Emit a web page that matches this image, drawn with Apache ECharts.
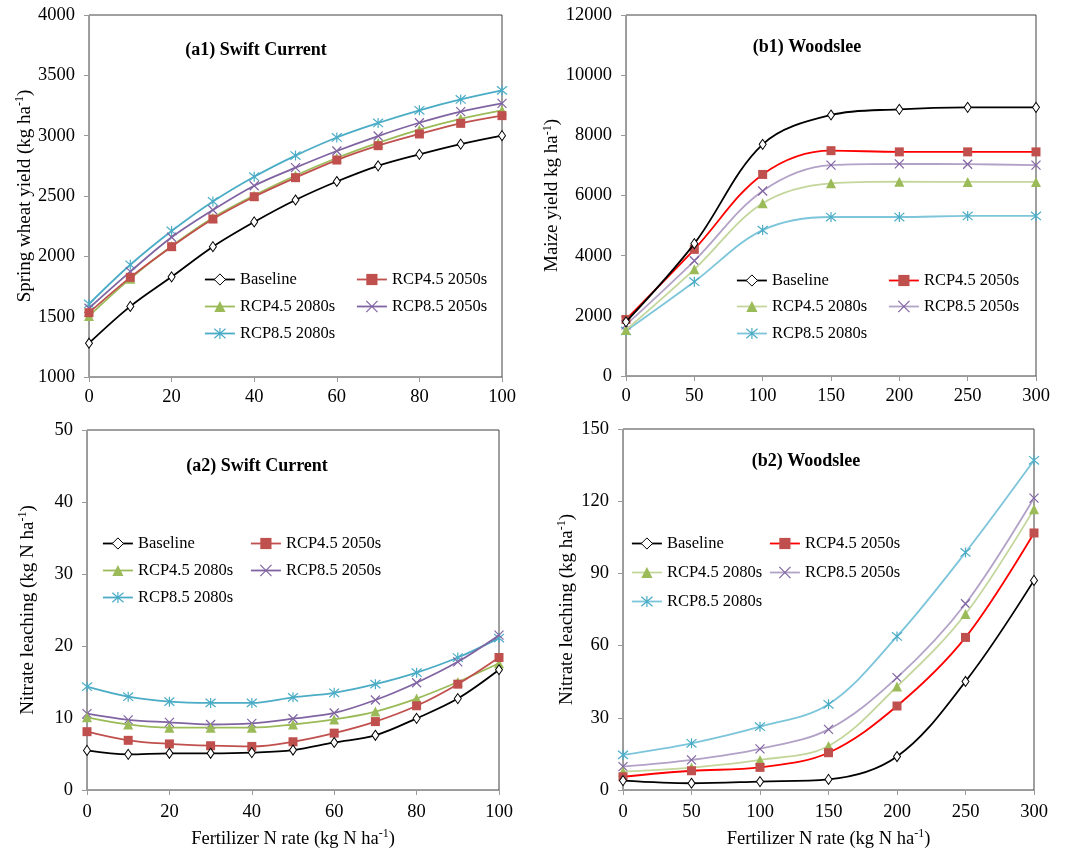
<!DOCTYPE html>
<html>
<head>
<meta charset="utf-8">
<script src="https://cdn.jsdelivr.net/npm/echarts@6/dist/echarts.min.js"></script>
<style>
html,body{margin:0;padding:0;background:#fff;}
#chart{width:1086px;height:856px;}
</style>
</head>
<body>
<div id="chart"></div>
<script>
// ---------- DATA ----------
const aX = [0, 10, 20, 30, 40, 50, 60, 70, 80, 90, 100];
const bX = [0, 50, 100, 150, 200, 250, 300];
const seriesNames = ['Baseline', 'RCP4.5 2050s', 'RCP4.5 2080s', 'RCP8.5 2050s', 'RCP8.5 2080s'];

// (a1) Swift Current - spring wheat yield (kg ha-1)
const a1_base   = [1280, 1585, 1830, 2080, 2285, 2467, 2620, 2750, 2845, 2930, 3000];
const a1_r45_50 = [1533, 1826, 2080, 2309, 2494, 2652, 2798, 2917, 3014, 3102, 3166];
const a1_r45_80 = [1505, 1815, 2085, 2320, 2505, 2670, 2815, 2940, 3050, 3140, 3210];
const a1_r85_50 = [1570, 1873, 2158, 2384, 2585, 2735, 2873, 2997, 3107, 3199, 3268];
const a1_r85_80 = [1605, 1930, 2210, 2455, 2660, 2835, 2985, 3105, 3210, 3300, 3375];

// (b1) Woodslee - maize yield (kg ha-1)
const b1_base   = [1800, 4400, 7700, 8675, 8865, 8930, 8930];
const b1_r45_50 = [1880, 4210, 6700, 7490, 7450, 7450, 7450];
const b1_r45_80 = [1530, 3545, 5740, 6405, 6460, 6450, 6450];
const b1_r85_50 = [1700, 3830, 6150, 7010, 7050, 7040, 7010];
const b1_r85_80 = [1500, 3135, 4850, 5285, 5285, 5320, 5320];

// (a2) Swift Current - nitrate leaching (kg N ha-1)
const a2_base   = [5.5, 4.95, 5.1, 5.1, 5.2, 5.55, 6.6, 7.6, 9.95, 12.7, 16.7];
const a2_r45_50 = [8.1, 6.9, 6.4, 6.15, 6.05, 6.7, 7.9, 9.5, 11.7, 14.7, 18.4];
const a2_r45_80 = [10.1, 9.1, 8.65, 8.65, 8.65, 9.1, 9.8, 10.9, 12.7, 15.0, 17.6];
const a2_r85_50 = [10.6, 9.75, 9.4, 9.1, 9.25, 9.9, 10.7, 12.5, 14.9, 17.8, 21.5];
const a2_r85_80 = [14.35, 12.96, 12.27, 12.1, 12.1, 12.87, 13.5, 14.7, 16.3, 18.4, 21.1];

// (b2) Woodslee - nitrate leaching (kg ha-1)
const b2_base   = [3.9, 2.8, 3.5, 4.4, 13.9, 45.1, 87.1];
const b2_r45_50 = [5.5, 8.0, 9.4, 15.5, 34.9, 63.4, 106.8];
const b2_r45_80 = [7.6, 9.3, 12.5, 18.3, 43.0, 73.1, 116.7];
const b2_r85_50 = [9.7, 12.5, 17.1, 25.2, 46.7, 77.4, 121.3];
const b2_r85_80 = [14.6, 19.4, 26.3, 35.6, 63.8, 98.7, 137.0];

const a1Ticks = {min: 1000, max: 4000, interval: 500};
const b1Ticks = {min: 0, max: 12000, interval: 2000};
const a2Ticks = {min: 0, max: 50, interval: 10};
const b2Ticks = {min: 0, max: 150, interval: 30};
const aXTicks = {min: 0, max: 100, interval: 20};
const bXTicks = {min: 0, max: 300, interval: 50};

// ---------- STYLE ----------
const FONT = '"Liberation Serif", "Times New Roman", serif';
const markerColors = ['#000000', '#C0504D', '#9BBB59', '#8064A2', '#4BACC6'];
const aLineColors = ['#000000', '#C0504D', '#9BBB59', '#8064A2', '#4BACC6'];
const bLineColors = ['#000000', '#FF0000', '#C3D69B', '#B3A2C7', '#7CC5DA'];
const symbols = [
  {symbol: 'diamond', size: [7, 10], fill: '#ffffff', bw: 1},
  {symbol: 'rect', size: 9, fill: null, bw: 0},
  {symbol: 'triangle', size: 10, fill: null, bw: 0},
  {symbol: 'path://M0,0L10,10M10,0L0,10', size: 9, fill: 'none', bw: 1.2},
  {symbol: 'path://M5,-1L5,11M0,0L10,10M10,0L0,10', size: 10, fill: 'none', bw: 1.2}
];

const grids = [
  {left: 89, top: 15, width: 413, height: 362},
  {left: 626, top: 15, width: 410, height: 361},
  {left: 87, top: 430, width: 412, height: 360},
  {left: 623, top: 429, width: 411, height: 361}
];

const rich = {
  n: {fontFamily: FONT, fontSize: 19, color: '#000', lineHeight: 22},
  s: {fontFamily: FONT, fontSize: 12, color: '#000', lineHeight: 12, verticalAlign: 'top'}
};
const richX = {
  n: {fontFamily: FONT, fontSize: 18.5, color: '#000', lineHeight: 22},
  s: {fontFamily: FONT, fontSize: 12, color: '#000', lineHeight: 12, verticalAlign: 'top'}
};

function plainNum(v) { return String(v); }

function xAxis(gi, t, showName, labelMargin) {
  return {
    type: 'value', gridIndex: gi, min: t.min, max: t.max, interval: t.interval,
    axisLine: {show: true, lineStyle: {color: '#9a9a9a', width: 1}},
    axisTick: {show: true, inside: false, length: 5, lineStyle: {color: '#9a9a9a'}},
    splitLine: {show: false},
    axisLabel: {fontFamily: FONT, fontSize: 18.5, color: '#000', margin: labelMargin, formatter: plainNum},
    name: showName ? '{n|Fertilizer N rate (kg N ha}{s|-1}{n|)}' : '',
    nameLocation: 'middle', nameGap: 38,
    nameTextStyle: {rich: richX}
  };
}
function yAxis(gi, t, label, gap) {
  return {
    type: 'value', gridIndex: gi, min: t.min, max: t.max, interval: t.interval,
    axisLine: {show: true, lineStyle: {color: '#9a9a9a', width: 1}},
    axisTick: {show: true, inside: false, length: 5, lineStyle: {color: '#9a9a9a'}},
    splitLine: {show: false},
    axisLabel: {fontFamily: FONT, fontSize: 18.5, color: '#000', margin: 14, formatter: plainNum},
    name: label, nameLocation: 'middle', nameGap: gap,
    nameTextStyle: {rich: rich}
  };
}

function makeSeries(gi, xs, arrs, lineColors) {
  return arrs.map((arr, k) => {
    const s = symbols[k];
    return {
      type: 'line', name: seriesNames[k], xAxisIndex: gi, yAxisIndex: gi,
      data: xs.map((x, i) => [x, arr[i]]),
      smooth: 0.35,
      symbol: s.symbol, symbolSize: s.size, showSymbol: true,
      lineStyle: {color: lineColors[k], width: 1.8},
      itemStyle: {
        color: s.fill === null ? markerColors[k] : (s.fill === 'none' ? markerColors[k] : s.fill),
        borderColor: markerColors[k], borderWidth: s.bw
      },
      emphasis: {disabled: true},
      z: 10 - k
    };
  });
}

function makeLegends(positions, lineColors) {
  return positions.map((p, k) => {
    const s = symbols[k];
    return {
      left: p[0], top: p[1], padding: 0, itemWidth: 30, itemHeight: 14,
      selectedMode: false,
      textStyle: {fontFamily: FONT, fontSize: 16.5, color: '#000'},
      data: [{
        name: seriesNames[k],
        lineStyle: {color: lineColors[k], width: 1.8},
        itemStyle: {
          color: s.fill === null ? markerColors[k] : (s.fill === 'none' ? markerColors[k] : s.fill),
          borderColor: markerColors[k], borderWidth: s.bw
        }
      }]
    };
  });
}

function legendPos(c1, c2, rows) {
  return [[c1, rows[0]], [c2, rows[0]], [c1, rows[1]], [c2, rows[1]], [c1, rows[2]]];
}

const titleStyle = {fontFamily: FONT, fontSize: 18, fontWeight: 'bold', color: '#000'};

const option = {
  animation: false,
  backgroundColor: '#fff',
  title: [
    {text: '(a1) Swift Current', left: 256, top: 41, textAlign: 'center', textStyle: titleStyle, padding: 0},
    {text: '(b1) Woodslee', left: 807, top: 38, textAlign: 'center', textStyle: titleStyle, padding: 0},
    {text: '(a2) Swift Current', left: 257, top: 457, textAlign: 'center', textStyle: titleStyle, padding: 0},
    {text: '(b2) Woodslee', left: 806, top: 452, textAlign: 'center', textStyle: titleStyle, padding: 0}
  ],
  grid: grids.map(g => Object.assign({show: true, borderColor: '#404040', borderWidth: 1, backgroundColor: 'transparent'}, g)),
  xAxis: [
    xAxis(0, aXTicks, false, 11),
    xAxis(1, bXTicks, false, 11),
    xAxis(2, aXTicks, true, 13),
    xAxis(3, bXTicks, true, 13)
  ],
  yAxis: [
    yAxis(0, a1Ticks, '{n|Spring wheat yield (kg ha}{s|-1}{n|)}', 53),
    yAxis(1, b1Ticks, '{n|Maize yield kg ha}{s|-1}{n|)}', 51),
    yAxis(2, a2Ticks, '{n|Nitrate leaching (kg N ha}{s|-1}{n|)}', 48),
    yAxis(3, b2Ticks, '{n|Nitrate leaching (kg ha}{s|-1}{n|)}', 45)
  ],
  legend: [].concat(
    makeLegends(legendPos(204, 356, [271, 298, 325]), aLineColors),
    makeLegends(legendPos(736, 888, [272, 298, 325]), bLineColors),
    makeLegends(legendPos(102, 250, [535, 562, 589]), aLineColors),
    makeLegends(legendPos(631, 769, [535, 564, 593]), bLineColors)
  ),
  series: [].concat(
    makeSeries(0, aX, [a1_base, a1_r45_50, a1_r45_80, a1_r85_50, a1_r85_80], aLineColors),
    makeSeries(1, bX, [b1_base, b1_r45_50, b1_r45_80, b1_r85_50, b1_r85_80], bLineColors),
    makeSeries(2, aX, [a2_base, a2_r45_50, a2_r45_80, a2_r85_50, a2_r85_80], aLineColors),
    makeSeries(3, bX, [b2_base, b2_r45_50, b2_r45_80, b2_r85_50, b2_r85_80], bLineColors)
  )
};

const chart = echarts.init(document.getElementById('chart'), null, {renderer: 'canvas'});
chart.setOption(option);
</script>
</body>
</html>
